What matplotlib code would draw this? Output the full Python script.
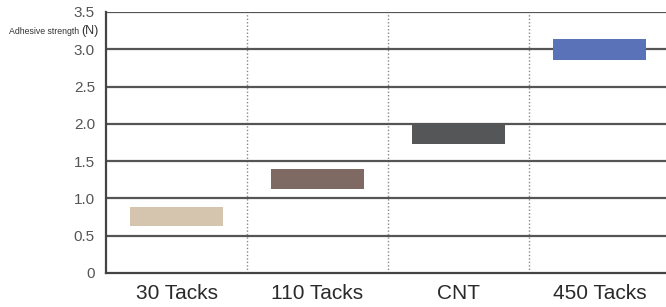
import matplotlib
matplotlib.use("Agg")
import matplotlib.pyplot as plt

categories = ["30 Tacks", "110 Tacks", "CNT", "450 Tacks"]
low_values = [0.63, 1.13, 1.73, 2.86]
high_values = [0.88, 1.39, 2.00, 3.14]
bar_colors = ["#d5c4ae", "#7e6963", "#555658", "#5a73b8"]
y_ticks = [0, 0.5, 1.0, 1.5, 2.0, 2.5, 3.0, 3.5]
y_tick_labels = ["0", "0.5", "1.0", "1.5", "2.0", "2.5", "3.0", "3.5"]

plt.rcParams["font.family"] = ["Liberation Sans", "DejaVu Sans"]

fig = plt.figure(figsize=(6.66, 3.07), dpi=100)
W, H = 666, 307
ax = fig.add_axes([106 / W, 1 - 273 / H, 1 - 106 / W, (273 - 12) / H])

x = list(range(len(categories)))
heights = [h - l for h, l in zip(high_values, low_values)]
ax.bar(x, heights, bottom=low_values, width=0.66, color=bar_colors, zorder=3,
       edgecolor="none")

ax.set_ylim(0, 3.5)
ax.set_xlim(-0.5, -0.5 + 560 / 141)

for yv in y_ticks[1:]:
    ax.axhline(yv, color="#555555", lw=1.6, zorder=2)
for xv in [0.5, 1.5, 2.5]:
    ax.axvline(xv, color="#888888", lw=1.0, ls=(0, (1, 1.5)), zorder=1)

ax.set_yticks(y_ticks)
ax.set_yticklabels(y_tick_labels, fontsize=11, color="#555555")
ax.set_xticks(x)
ax.set_xticklabels(categories, fontsize=15, color="#2a2a2a")
ax.tick_params(axis="both", length=0)
ax.tick_params(axis="y", pad=8)
ax.tick_params(axis="x", pad=8)

for s in ["top", "right"]:
    ax.spines[s].set_visible(False)
for s in ["left", "bottom"]:
    ax.spines[s].set_color("#444444")
    ax.spines[s].set_linewidth(1.6)

fig.text(79 / W, 1 - 32 / H, "Adhesive strength", fontsize=6.3, color="#333333",
         ha="right", va="center")
fig.text(99 / W, 1 - 31 / H, "(N)", fontsize=9, color="#333333",
         ha="right", va="center")

fig.savefig("out.png", dpi=100)
